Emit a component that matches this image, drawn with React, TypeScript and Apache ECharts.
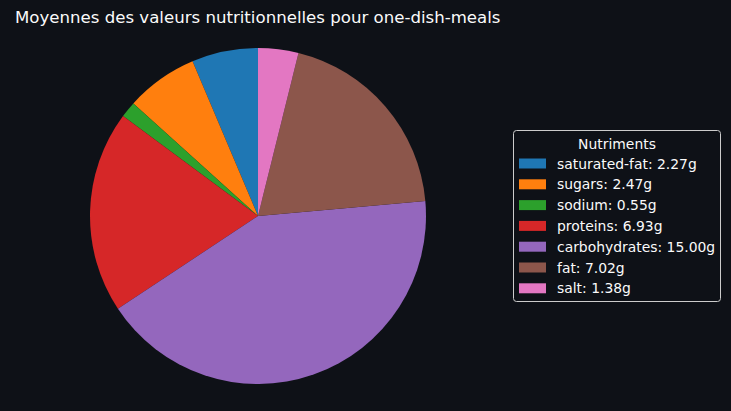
import React, { useEffect, useRef } from "react";
import * as echarts from "echarts";

const categories = ["saturated-fat", "sugars", "sodium", "proteins", "carbohydrates", "fat", "salt"];
const values = [2.27, 2.47, 0.55, 6.93, 15.0, 7.02, 1.38];
const colors = ["#1f77b4", "#ff7f0e", "#2ca02c", "#d62728", "#9467bd", "#8c564b", "#e377c2"];
const titleText = "Moyennes des valeurs nutritionnelles pour one-dish-meals";
const legendTitle = "Nutriments";

export default function App() {
  const ref = useRef<HTMLDivElement>(null);
  useEffect(() => {
    if (!ref.current) return;
    const chart = echarts.init(ref.current, null, { renderer: "svg" });
    const font = "DejaVu Sans";
    const data = categories.map((c, i) => ({
      name: `${c}: ${values[i].toFixed(2)}g`,
      value: values[i],
      itemStyle: { color: colors[i] },
    }));
    chart.setOption({
      animation: false,
      backgroundColor: "#0e1117",
      textStyle: { fontFamily: font },
      title: {
        text: titleText,
        left: 10,
        top: 4,
        textStyle: { color: "#fafafa", fontSize: 16.6, fontWeight: "normal", fontFamily: font },
      },
      graphic: [
        {
          type: "rect",
          shape: { x: 513.5, y: 130.5, width: 207, height: 171, r: 3 },
          style: { fill: "#0e1117", stroke: "#cccccc", lineWidth: 1 },
          z: 0,
        },
        {
          type: "text",
          x: 617,
          y: 144,
          style: {
            text: legendTitle,
            fill: "#fafafa",
            font: `13.9px "${font}"`,
            textAlign: "center",
            textVerticalAlign: "middle",
          },
          z: 1,
        },
      ],
      legend: {
        orient: "vertical",
        left: 514,
        top: 151.5,
        itemWidth: 27,
        itemHeight: 10,
        itemGap: 6.8,
        icon: "rect",
        selectedMode: false,
        textStyle: { color: "#fafafa", fontSize: 13.9, lineHeight: 14, fontFamily: font, padding: [0, 0, 0, 6] },
        z: 5,
      },
      series: [
        {
          type: "pie",
          center: [258, 216],
          radius: 168,
          startAngle: 90,
          clockwise: false,
          label: { show: false },
          labelLine: { show: false },
          emphasis: { disabled: true },
          itemStyle: { borderWidth: 0 },
          data,
        },
      ],
    });
    return () => chart.dispose();
  }, []);
  return <div ref={ref} style={{ width: 731, height: 411, position: "absolute", left: 0, top: 0 }} />;
}
